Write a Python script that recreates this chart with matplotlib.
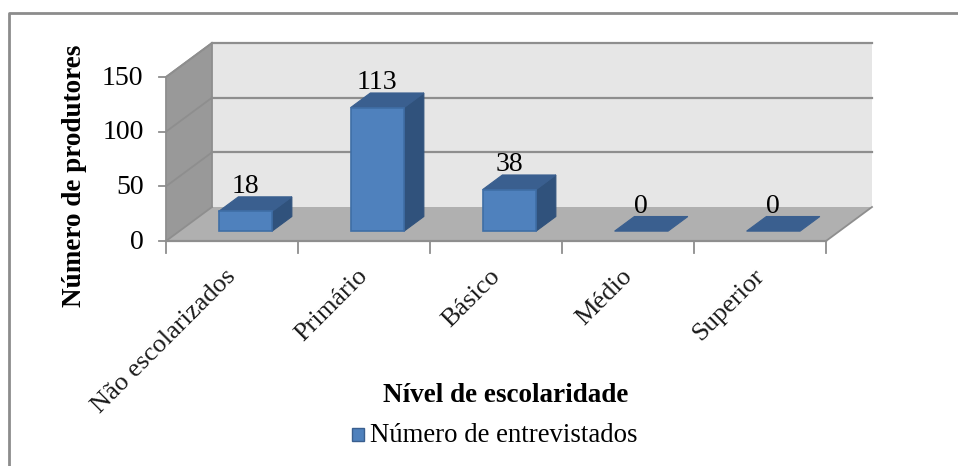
#!/usr/bin/env python3
import matplotlib
matplotlib.use('Agg')
import matplotlib.pyplot as plt
from matplotlib.lines import Line2D
from matplotlib.patches import Polygon, Rectangle

plt.rcParams['font.family'] = ['Liberation Serif', 'DejaVu Serif']

categorias = ['Não escolarizados', 'Primário', 'Básico', 'Médio', 'Superior']
valores = [18, 113, 38, 0, 0]
ticks_y = [0, 50, 100, 150]

W, H = 958, 466
fig = plt.figure(figsize=(W / 100, H / 100), dpi=100)

# moldura externa: so topo e esquerda aparecem no recorte
fig.add_artist(Line2D([9 / W, 9 / W, 1], [0, 1 - 13 / H, 1 - 13 / H], color='#8c8c8c', lw=2))

# eixo = plano frontal do grafico 3D
ax = fig.add_axes([166 / W, 1 - 241 / H, 660 / W, 164 / H])
ax.set_xlim(0, 5)
ax.set_ylim(0, 150)
ax.axis('off')

# deslocamento da profundidade em unidades de dados
DX = 46 / 132
DY = 34 / (164 / 150)


def p(x, y, d=0.0):
    return (x + DX * d, y + DY * d)


def poly(pts, **kw):
    kw.setdefault('clip_on', False)
    ax.add_patch(Polygon(pts, closed=True, **kw))


# paredes
poly([p(0, 0, 1), p(5, 0, 1), p(5, 150, 1), p(0, 150, 1)], fc='#e6e6e6', ec='none', zorder=1)
poly([p(0, 0), p(0, 0, 1), p(0, 150, 1), p(0, 150)], fc='#999999', ec='none', zorder=1)
poly([p(0, 0), p(5, 0), p(5, 0, 1), p(0, 0, 1)], fc='#b0b0b0', ec='none', zorder=1)

# grade
for v in ticks_y:
    ax.plot([p(0, v)[0], p(0, v, 1)[0]], [p(0, v)[1], p(0, v, 1)[1]], color='#8e8e8e', lw=1.3, clip_on=False, zorder=2)
    if v > 0:
        ax.plot([p(0, v, 1)[0], p(5, v, 1)[0]], [p(0, v, 1)[1], p(5, v, 1)[1]], color='#8e8e8e', lw=1.6, clip_on=False, zorder=2)
    ax.plot([p(0, v)[0] - 0.05, p(0, v)[0]], [v, v], color='#8e8e8e', lw=1.3, clip_on=False, zorder=2)
    ax.text(-0.17, v - 1, str(v), ha='right', va='center', fontsize=20, color='black')
ax.plot([0, 5], [0, 0], color='#8e8e8e', lw=1.6, clip_on=False, zorder=2)
ax.plot([p(5, 0)[0], p(5, 0, 1)[0]], [0, DY], color='#8e8e8e', lw=1.3, clip_on=False, zorder=2)
ax.plot([0, 0], [0, 150], color='#8e8e8e', lw=1.3, clip_on=False, zorder=2)
ax.plot([DX, DX], [DY, 150 + DY], color='#8e8e8e', lw=1.3, clip_on=False, zorder=2)
ax.plot([0, DX], [150, 150 + DY], color='#8e8e8e', lw=1.3, clip_on=False, zorder=2)
for i in range(6):
    ax.plot([i, i], [0, -11], color='#8e8e8e', lw=1.3, clip_on=False, zorder=2)

# barras
d0, d1 = 0.29, 0.72
larg = 0.405
for i, (cat, val) in enumerate(zip(categorias, valores)):
    x0 = i + 0.5 - larg / 2
    x1 = x0 + larg
    if val > 0:
        poly([p(x1, 0, d0), p(x1, 0, d1), p(x1, val, d1), p(x1, val, d0)], fc='#30527c', ec='#30527c', lw=0.8, zorder=3)
        poly([p(x0, val, d0), p(x1, val, d0), p(x1, val, d1), p(x0, val, d1)], fc='#3a5f8f', ec='#3a5f8f', lw=0.8, zorder=3)
        poly([p(x0, 0, d0), p(x1, 0, d0), p(x1, val, d0), p(x0, val, d0)], fc='#4f81bd', ec='#3f6ea6', lw=1.2, zorder=4)
    else:
        poly([p(x0, 0, d0), p(x1, 0, d0), p(x1, 0, d1), p(x0, 0, d1)], fc='#3a5f8f', ec='#3a5f8f', lw=0.8, zorder=3)
    # rotulo de valor centrado na face frontal, logo acima da tampa
    tx = p(i + 0.5, val, d0)[0]
    ty = p(i + 0.5, val, d1)[1]
    ax.text(tx, ty - 2, str(val), ha='center', va='bottom', fontsize=20, color='black', zorder=5)
    # rotulos do eixo x, ancorados pelo fim do texto
    ax.text(i + 0.445, -22, cat, rotation=45, ha='right', va='top', rotation_mode='anchor', fontsize=19, color='#1a1a1a')

# titulos
fig.text(75 / W, 1 - 176 / H, 'Número de produtores', rotation=90, ha='center', va='center',
         fontsize=19.5, fontweight='bold')
fig.text(506 / W, 1 - 395 / H, 'Nível de escolaridade', ha='center', va='center',
         fontsize=19.5, fontweight='bold')

# legenda
fig.add_artist(Rectangle((352 / W, 1 - 441 / H), 12 / W, 13 / H, transform=fig.transFigure,
                         fc='#4f81bd', ec='#3a5f8f', lw=1))
fig.text(370 / W, 1 - 435 / H, 'Número de entrevistados', ha='left', va='center', fontsize=19.3)

fig.savefig('out.png', dpi=100)
